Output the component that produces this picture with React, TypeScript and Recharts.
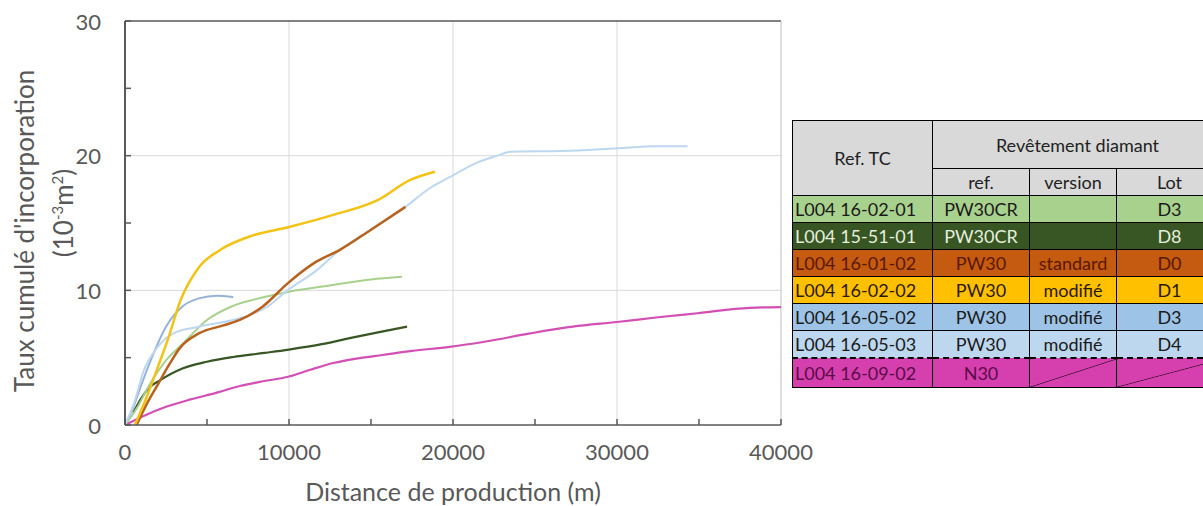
import { CartesianGrid, Line, LineChart, ReferenceLine, XAxis, YAxis } from "recharts";

const FONT = "Lato, 'Open Sans', sans-serif";
const GREY = "#595959";

// axes
const xTicks = [0, 5000, 10000, 15000, 20000, 25000, 30000, 35000, 40000];
const xLabels = [0, 10000, 20000, 30000, 40000];
const yTicks = [0, 5, 10, 15, 20, 25, 30];
const yLabels = [0, 10, 20, 30];

// courbes [distance (m), taux cumulé (10-3 m2)]
const vertClair = [[0, 0], [700, 1.2], [1500, 3.0], [2500, 4.8], [3500, 6.0], [5000, 7.8], [6500, 8.8], [8500, 9.5], [10000, 9.9], [12700, 10.4], [15000, 10.8], [16900, 11.0]];
const vertFonce = [[500, 0.9], [1000, 2.0], [1500, 2.8], [2100, 3.3], [3500, 4.2], [5000, 4.7], [6600, 5.05], [8500, 5.35], [10000, 5.6], [12000, 6.0], [13700, 6.45], [15500, 6.9], [17200, 7.3]];
const orange = [[700, 0], [1300, 1.5], [2000, 3.0], [2700, 4.5], [3400, 5.8], [4500, 6.8], [6000, 7.4], [7000, 7.8], [8400, 8.8], [9900, 10.5], [11500, 12.0], [13100, 13.0], [15000, 14.5], [17100, 16.2]];
const jaune = [[600, 0], [1300, 2.0], [2000, 4.3], [2600, 6.3], [3400, 9.3], [4500, 11.7], [5800, 13.0], [7600, 14.0], [10000, 14.7], [12700, 15.6], [15400, 16.7], [17400, 18.2], [18900, 18.8]];
const bleu = [[0, 0], [500, 1.3], [1000, 3.0], [1500, 4.6], [2500, 7.3], [3500, 8.8], [4500, 9.4], [5600, 9.6], [6600, 9.5]];
const bleuClair = [[0, 0], [600, 1.8], [1100, 3.9], [2000, 5.8], [2950, 6.8], [4500, 7.3], [7200, 8.0], [8700, 8.8], [9900, 10.0], [11700, 11.5], [13100, 13.0], [15000, 14.5], [17000, 16.1], [18600, 17.6], [19800, 18.4], [21500, 19.5], [22700, 20.0], [23500, 20.3], [26700, 20.35], [30000, 20.55], [32400, 20.7], [34300, 20.7]];
const magenta = [[0, 0], [1000, 0.6], [2500, 1.35], [4000, 1.9], [5600, 2.4], [7000, 2.9], [8200, 3.2], [10000, 3.6], [11300, 4.1], [12700, 4.6], [14200, 4.95], [15700, 5.2], [17500, 5.5], [19800, 5.8], [22000, 6.2], [24700, 6.8], [27300, 7.3], [30000, 7.65], [32500, 8.0], [34900, 8.3], [38100, 8.7], [40000, 8.75]];

// tableau
const refTC = ["L004 16-02-01", "L004 15-51-01", "L004 16-01-02", "L004 16-02-02", "L004 16-05-02", "L004 16-05-03", "L004 16-09-02"];
const refRev = ["PW30CR", "PW30CR", "PW30", "PW30", "PW30", "PW30", "N30"];
const versions = ["", "", "standard", "modifié", "modifié", "modifié", ""];
const lots = ["D3", "D8", "D0", "D1", "D3", "D4", ""];
const rowColors = ["#a9d18e", "#375623", "#c55a11", "#ffc000", "#9dc3e6", "#bdd7ee", "#d63fae"];
const rowText = ["#1a1a1a", "#e6eedd", "#5a1800", "#2a1a00", "#1a1a1a", "#1a1a1a", "#5a0c48"];

const series = [
  { name: "L004 16-09-02", color: "#d24fb4", pts: magenta, w: 2.2 },
  { name: "L004 15-51-01", color: "#375623", pts: vertFonce, w: 2.2 },
  { name: "L004 16-02-01", color: "#a9d18e", pts: vertClair, w: 2 },
  { name: "L004 16-05-02", color: "#95b3d7", pts: bleu, w: 2 },
  { name: "L004 16-05-03", color: "#bdd7ee", pts: bleuClair, w: 2 },
  { name: "L004 16-01-02", color: "#b8621e", pts: orange, w: 2.5 },
  { name: "L004 16-02-02", color: "#f2c214", pts: jaune, w: 2.5 },
];

function XTick({ x, y, payload }: any) {
  const v = payload.value;
  return (
    <g>
      <line x1={x} y1={y} x2={x} y2={y - 6} stroke={GREY} strokeWidth={1.5} />
      {xLabels.includes(v) && (
        <text x={x} y={y + 26} textAnchor="middle" dominantBaseline="central" fontSize={22} fill={GREY} fontFamily={FONT}>
          {v}
        </text>
      )}
    </g>
  );
}

function YTick({ x, y, payload }: any) {
  const v = payload.value;
  return (
    <g>
      <line x1={x} y1={y} x2={x + 6} y2={y} stroke={GREY} strokeWidth={1.5} />
      {yLabels.includes(v) && (
        <text x={x - 24} y={y} textAnchor="end" dominantBaseline="central" fontSize={22} fill={GREY} fontFamily={FONT}>
          {v}
        </text>
      )}
    </g>
  );
}

const cell: React.CSSProperties = { border: "1px solid #000", padding: 0, textAlign: "center", height: 26, whiteSpace: "nowrap" };
const diag = (bg: string) =>
  `linear-gradient(to bottom right, transparent calc(50% - 0.7px), #3a1030 50%, transparent calc(50% + 0.7px)), ${bg}`;

function Table() {
  return (
    <table
      style={{
        position: "absolute", left: 792, top: 120, borderCollapse: "collapse", fontFamily: FONT,
        fontSize: 18, tableLayout: "fixed", width: 430,
      }}
    >
      <colgroup>
        <col style={{ width: 140 }} />
        <col style={{ width: 97 }} />
        <col style={{ width: 87 }} />
        <col style={{ width: 106 }} />
      </colgroup>
      <tbody>
        <tr>
          <td rowSpan={2} style={{ ...cell, background: "#d9d9d9", color: "#222" }}>Ref. TC</td>
          <td colSpan={3} style={{ ...cell, background: "#d9d9d9", color: "#222", height: 47 }}>Revêtement diamant</td>
        </tr>
        <tr>
          <td style={{ ...cell, background: "#d9d9d9", color: "#222" }}>ref.</td>
          <td style={{ ...cell, background: "#d9d9d9", color: "#222" }}>version</td>
          <td style={{ ...cell, background: "#d9d9d9", color: "#222" }}>Lot</td>
        </tr>
        {refTC.map((r, i) => {
          const last = i === refTC.length - 1;
          const s: React.CSSProperties = {
            ...cell, background: rowColors[i], color: rowText[i], height: last ? 28 : 26,
            borderTop: last ? "2px dashed #000" : cell.border as string,
          };
          return (
            <tr key={r}>
              <td style={{ ...s, textAlign: "left", paddingLeft: 2 }}>{r}</td>
              <td style={s}>{refRev[i]}</td>
              <td style={last ? { ...s, background: diag(rowColors[i]) } : s}>{versions[i]}</td>
              <td style={last ? { ...s, background: diag(rowColors[i]) } : s}>{lots[i]}</td>
            </tr>
          );
        })}
      </tbody>
    </table>
  );
}

export default function App() {
  return (
    <div style={{ position: "absolute", left: 0, top: 0, width: 1203, height: 506, overflow: "hidden", background: "#fff" }}>
      <LineChart width={840} height={506} margin={{ top: 21, right: 59, bottom: 21, left: 65 }}>
        <CartesianGrid stroke="#d9d9d9" verticalValues={[10000, 20000, 30000]} horizontalValues={[10, 20]} />
        <XAxis
          type="number" dataKey="x" domain={[0, 40000]} ticks={xTicks} interval={0} height={60}
          tickSize={0} tickMargin={0} tick={<XTick />} axisLine={{ stroke: GREY, strokeWidth: 1.5 }} tickLine={false}
          allowDataOverflow
        />
        <YAxis
          type="number" domain={[0, 30]} ticks={yTicks} interval={0} width={60}
          tickSize={0} tickMargin={0} tick={<YTick />} axisLine={{ stroke: GREY, strokeWidth: 2 }} tickLine={false}
        />
        <ReferenceLine y={30} stroke={GREY} strokeWidth={1.5} />
        <ReferenceLine x={40000} stroke="#bfbfbf" strokeWidth={1} />
        {series.map((s) => (
          <Line
            key={s.name}
            name={s.name}
            data={s.pts.map(([x, y]) => ({ x, y }))}
            dataKey="y"
            type="monotone"
            stroke={s.color}
            strokeWidth={s.w}
            dot={false}
            isAnimationActive={false}
          />
        ))}
      </LineChart>
      <div
        style={{
          position: "absolute", left: 453, top: 478, transform: "translateX(-50%)", whiteSpace: "nowrap",
          fontFamily: FONT, fontSize: 25, color: GREY, lineHeight: "26px",
        }}
      >
        Distance de production (m)
      </div>
      <div
        style={{
          position: "absolute", left: 24, top: 231, transform: "translate(-50%, -50%) rotate(-90deg)", whiteSpace: "nowrap",
          fontFamily: FONT, fontSize: 26, color: GREY, lineHeight: "28px",
        }}
      >
        Taux cumulé d'incorporation
      </div>
      <div
        style={{
          position: "absolute", left: 60, top: 213, transform: "translate(-50%, -50%) rotate(-90deg)", whiteSpace: "nowrap",
          fontFamily: FONT, fontSize: 26, color: GREY, lineHeight: "28px",
        }}
      >
        (10<sup style={{ fontSize: 15 }}>-3</sup>m<sup style={{ fontSize: 15 }}>2</sup>)
      </div>
      <Table />
    </div>
  );
}
